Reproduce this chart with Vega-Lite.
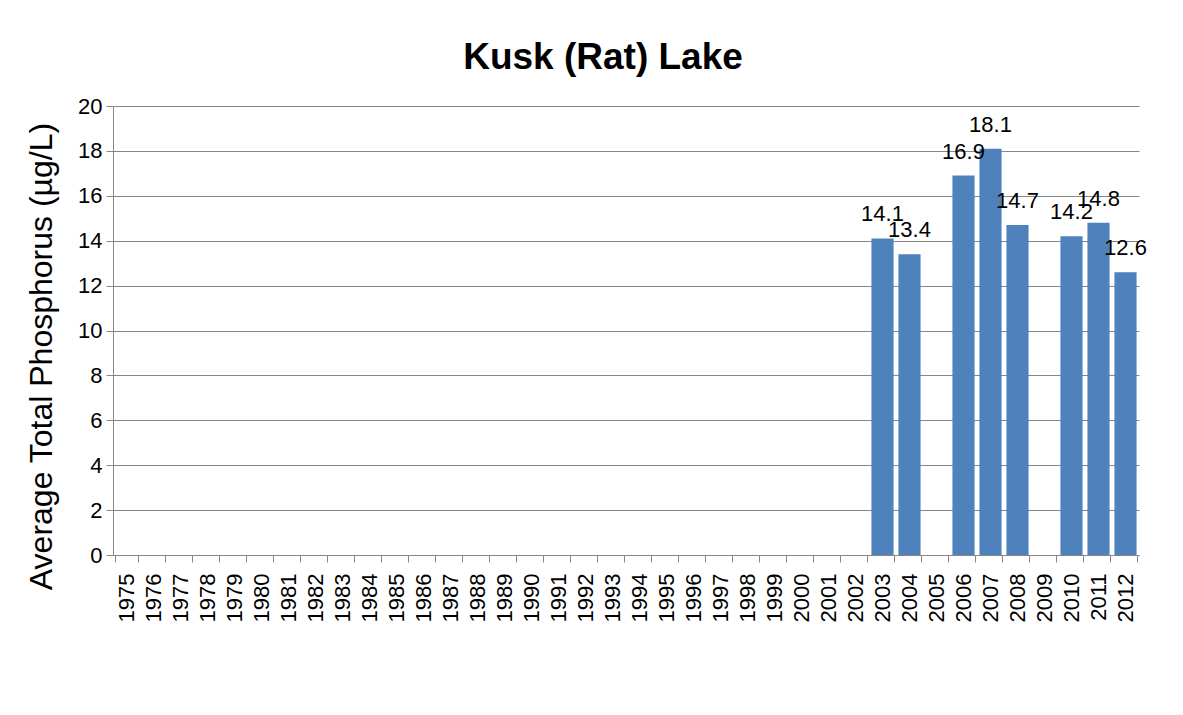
{
  "$schema": "https://vega.github.io/schema/vega-lite/v6.json",
  "width": 1026,
  "height": 449,
  "autosize": {"type": "none"},
  "padding": {"left": 113, "top": 106, "right": 44, "bottom": 160},
  "background": "white",
  "config": {
    "font": "Liberation Sans",
    "view": {"stroke": null}
  },
  "title": {
    "text": "Kusk (Rat) Lake",
    "font": "Liberation Sans",
    "fontSize": 37,
    "fontWeight": "bold",
    "color": "black",
    "anchor": "middle",
    "frame": "group",
    "baseline": "alphabetic",
    "offset": -11,
    "dx": -23
  },
  "data": {
    "values": [
      {"year": "2003", "tp": 14.1},
      {"year": "2004", "tp": 13.4},
      {"year": "2006", "tp": 16.9},
      {"year": "2007", "tp": 18.1},
      {"year": "2008", "tp": 14.7},
      {"year": "2010", "tp": 14.2},
      {"year": "2011", "tp": 14.8},
      {"year": "2012", "tp": 12.6}
    ]
  },
  "encoding": {
    "x": {
      "field": "year",
      "type": "ordinal",
      "scale": {
        "domain": ["1975","1976","1977","1978","1979","1980","1981","1982","1983","1984","1985","1986","1987","1988","1989","1990","1991","1992","1993","1994","1995","1996","1997","1998","1999","2000","2001","2002","2003","2004","2005","2006","2007","2008","2009","2010","2011","2012"],
        "paddingInner": 0.18,
        "paddingOuter": 0.09
      },
      "axis": {
        "title": null,
        "labelAngle": 270,
        "labelAlign": "right",
        "labelBaseline": "middle",
        "labelFontSize": 22,
        "labelColor": "black",
        "labelPadding": 11,
        "tickSize": 7,
        "tickColor": "#868686",
        "tickBand": "extent",
        "domainColor": "#868686",
        "labelOverlap": false
      }
    },
    "y": {
      "field": "tp",
      "type": "quantitative",
      "scale": {"domain": [0, 20], "nice": false},
      "axis": {
        "title": "Average Total Phosphorus (µg/L)",
        "titleFontSize": 32,
        "titleFontWeight": "normal",
        "titleColor": "black",
        "titleAngle": 270,
        "titleX": -72,
        "titleY": 250,
        "titleAlign": "center",
        "titleBaseline": "middle",
        "values": [0, 2, 4, 6, 8, 10, 12, 14, 16, 18, 20],
        "labelFontSize": 22,
        "labelColor": "black",
        "labelPadding": 4,
        "tickSize": 7,
        "tickColor": "#868686",
        "domainColor": "#868686",
        "grid": true,
        "gridColor": "#868686",
        "gridWidth": 1
      }
    }
  },
  "layer": [
    {
      "mark": {"type": "bar", "color": "#4F81BD"}
    },
    {
      "mark": {"type": "text", "fontSize": 22, "color": "black", "baseline": "alphabetic", "dy": -17},
      "encoding": {"text": {"field": "tp", "type": "quantitative", "format": ".1f"}}
    }
  ]
}
